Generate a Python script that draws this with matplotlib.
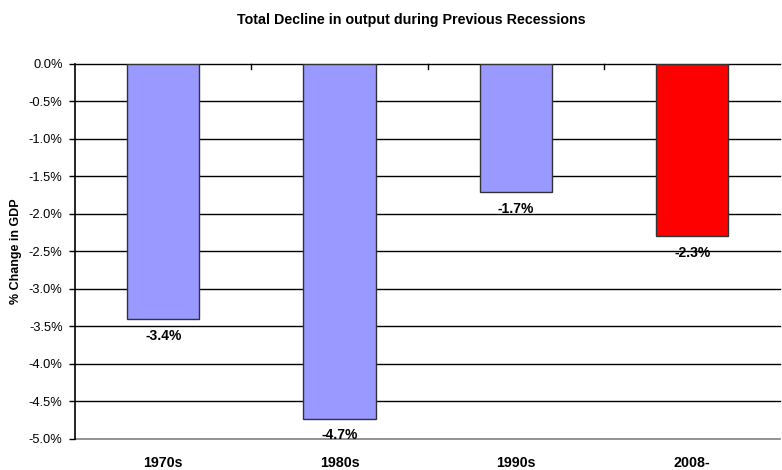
import matplotlib
matplotlib.use("Agg")
import matplotlib.pyplot as plt
import numpy as np

plt.rcParams['font.family'] = ['Liberation Sans', 'DejaVu Sans']

categories = ["1970s", "1980s", "1990s", "2008-"]
values = [-3.4, -4.73, -1.71, -2.3]
labels = ["-3.4%", "-4.7%", "-1.7%", "-2.3%"]
colors = ["#9999FF", "#9999FF", "#9999FF", "#FF0000"]
yticks = [0.0, -0.5, -1.0, -1.5, -2.0, -2.5, -3.0, -3.5, -4.0, -4.5, -5.0]

fig = plt.figure(figsize=(7.82, 4.70), dpi=100)
ax = fig.add_axes([0.096, 0.066, 0.902, 0.798])

x = np.arange(len(categories))
for yv in yticks:
    ax.axhline(yv, color="#808080" if yv == -5.0 else "black", lw=1.2 if yv == -5.0 else 1.0,
               zorder=1, clip_on=False)
ax.bar(x, values, width=0.41, color=colors, edgecolor="#333333", lw=1.0, zorder=3)

for xi, v, lab in zip(x, values, labels):
    ax.text(xi, v - 0.13, lab, ha="center", va="top", fontsize=10,
            fontweight="bold", zorder=4)

ax.set_xlim(-0.5, len(categories) - 0.5)
ax.set_ylim(-5.0, 0.0)
ax.set_yticks(yticks)
ax.set_yticklabels([f"{t:.1f}%" for t in yticks], fontsize=9.3)
ax.set_xticks(x)
ax.set_xticklabels(categories, fontsize=10.3, fontweight="bold")
ax.tick_params(axis="x", length=0, pad=12)
ax.tick_params(axis="y", length=4, width=1, color="black", pad=5)

# category separators on the zero line
for b in np.arange(0.5, len(categories) - 0.5, 1.0):
    ax.plot([b, b], [0, -0.07], color="black", lw=1.0, zorder=2, clip_on=False)

for s in ["top", "right", "bottom"]:
    ax.spines[s].set_visible(False)
ax.spines["left"].set_linewidth(1.2)

ax.set_ylabel("% Change in GDP", fontsize=9, fontweight="bold", labelpad=5)
fig.text(0.526, 0.957, "Total Decline in output during Previous Recessions",
         ha="center", va="center", fontsize=10.3, fontweight="bold")

fig.savefig("out.png", dpi=100)
